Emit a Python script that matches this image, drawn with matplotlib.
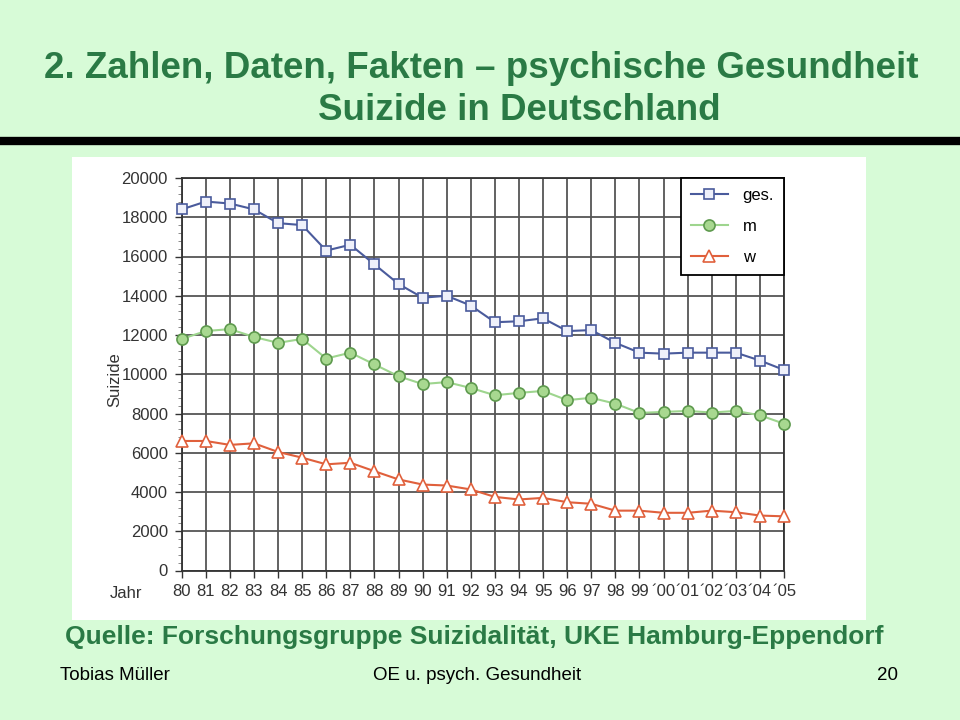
import numpy as np
import matplotlib.pyplot as plt
from matplotlib.patches import Rectangle
from matplotlib.ticker import MultipleLocator

plt.rcParams['font.family'] = ['Liberation Sans', 'DejaVu Sans']

years = ['80', '81', '82', '83', '84', '85', '86', '87', '88', '89', '90', '91', '92',
         '93', '94', '95', '96', '97', '98', '99', '\u00b400', '\u00b401', '\u00b402',
         '\u00b403', '\u00b404', '\u00b405']
ges = [18400, 18800, 18700, 18400, 17700, 17600, 16300, 16600, 15600, 14600, 13900,
       14000, 13500, 12650, 12700, 12850, 12200, 12250, 11600, 11100, 11050, 11100,
       11100, 11100, 10700, 10220]
m = [11800, 12200, 12300, 11900, 11600, 11800, 10800, 11100, 10500, 9900, 9500,
     9600, 9300, 8930, 9050, 9150, 8680, 8800, 8500, 8030, 8080, 8130, 8050, 8130,
     7910, 7480]
w = [6600, 6600, 6400, 6480, 6040, 5750, 5410, 5490, 5060, 4640, 4380, 4330, 4130,
     3750, 3620, 3700, 3480, 3400, 3050, 3050, 2940, 2940, 3050, 2970, 2800, 2760]

bg = '#d7fbd7'
green = '#2a7a45'

fig = plt.figure(figsize=(9.6, 7.2), dpi=100, facecolor=bg)

# white picture panel
fig.patches.append(Rectangle((72 / 960, 1 - 620 / 720), 794 / 960, 463 / 720,
                             transform=fig.transFigure, facecolor='white',
                             edgecolor='none', zorder=-5))
# thick rule under the title
fig.add_artist(plt.Line2D([0, 1], [1 - 141 / 720] * 2, color='black', lw=6,
                          transform=fig.transFigure))

fig.text(481 / 960, 1 - 68 / 720, '2. Zahlen, Daten, Fakten \u2013 psychische Gesundheit',
         ha='center', va='center', fontsize=26.5, fontweight='bold', color=green)
fig.text(519 / 960, 1 - 111 / 720, 'Suizide in Deutschland',
         ha='center', va='center', fontsize=26.5, fontweight='bold', color=green)
fig.text(474 / 960, 1 - 637 / 720, 'Quelle: Forschungsgruppe Suizidalit\u00e4t, UKE Hamburg-Eppendorf',
         ha='center', va='center', fontsize=19, fontweight='bold', color=green)
fig.text(60 / 960, 1 - 676 / 720, 'Tobias M\u00fcller', ha='left', va='center',
         fontsize=13.5, color='black')
fig.text(373 / 960, 1 - 676 / 720, 'OE u. psych. Gesundheit', ha='left', va='center',
         fontsize=13.5, color='black')
fig.text(898 / 960, 1 - 676 / 720, '20', ha='right', va='center',
         fontsize=13.5, color='black')

ax = fig.add_axes([181.7 / 960, 1 - 570.5 / 720, 602.3 / 960, 392.5 / 720])
ax.set_zorder(3)
ax.set_facecolor('white')
x = np.arange(len(years))

ax.plot(x, ges, color='#4a5b9c', lw=1.5, marker='s', ms=7.5, mfc='#eef0fa',
        mec='#4a5b9c', mew=1.2, label='ges.', zorder=5, clip_on=False)
ax.plot(x, m, color='#9ed58e', lw=1.5, marker='o', ms=8, mfc='#a8d890',
        mec='#5e9a4e', mew=1.2, label='m', zorder=5, clip_on=False)
ax.plot(x, w, color='#e0603c', lw=1.5, marker='^', ms=8, mfc='white',
        mec='#e0603c', mew=1.2, label='w', zorder=5, clip_on=False)

ax.set_xlim(0, len(years) - 1)
ax.set_ylim(0, 20000)
ax.set_xticks(x)
ax.set_xticklabels(years)
ax.yaxis.set_major_locator(MultipleLocator(2000))
ax.yaxis.set_minor_locator(MultipleLocator(400))
ax.grid(True, which='major', color='#555555', lw=1.3)
ax.set_axisbelow(True)
ax.tick_params(axis='both', which='major', labelsize=12, colors='#333333',
               length=5, width=1, direction='out', pad=5)
ax.tick_params(axis='y', which='minor', length=3, color='#777777')
for s in ax.spines.values():
    s.set_color('#333333')
    s.set_linewidth(1.3)

fig.text(115 / 960, 1 - 380 / 720, 'Suizide', rotation=90, ha='center', va='center',
         fontsize=12, color='#333333')
fig.text(126 / 960, 1 - 594 / 720, 'Jahr', ha='center', va='center',
         fontsize=12, color='#333333')

leg = ax.legend(loc='upper right', borderaxespad=0, fancybox=False, framealpha=1,
                edgecolor='black', fontsize=12, handlelength=2.2, handletextpad=0.9,
                labelspacing=0.95, borderpad=0.6)
leg.get_frame().set_linewidth(1.3)
leg.set_zorder(10)

fig.savefig('out.png', dpi=100, facecolor=bg)
